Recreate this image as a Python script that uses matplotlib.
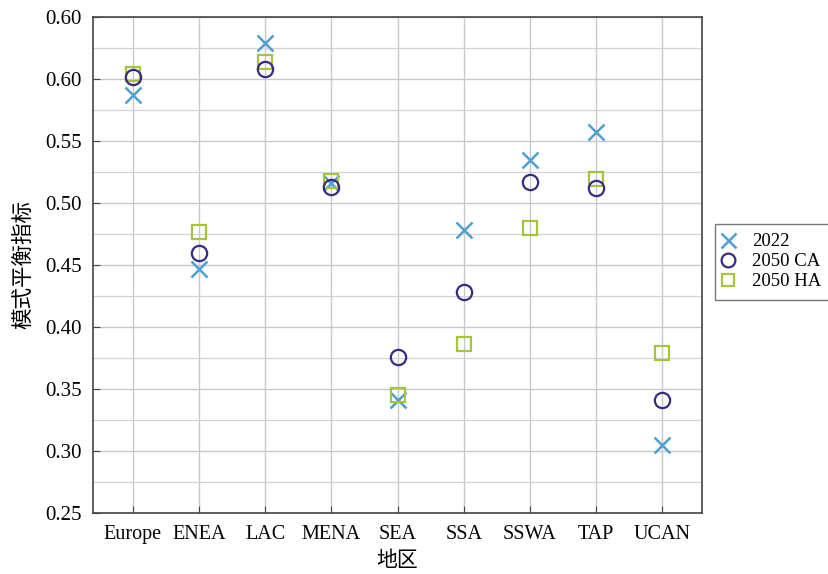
import matplotlib
matplotlib.use("Agg")
import matplotlib.pyplot as plt
from matplotlib.ticker import FixedLocator, FixedFormatter, MultipleLocator

plt.rcParams['font.family'] = ['Liberation Serif', 'Noto Sans CJK SC']

regions = ['Europe', 'ENEA', 'LAC', 'MENA', 'SEA', 'SSA', 'SSWA', 'TAP', 'UCAN']
v2022 = [0.587, 0.447, 0.629, 0.516, 0.341, 0.478, 0.535, 0.557, 0.305]
v2050_ca = [0.602, 0.460, 0.608, 0.513, 0.376, 0.428, 0.517, 0.512, 0.341]
v2050_ha = [0.604, 0.477, 0.614, 0.518, 0.345, 0.386, 0.480, 0.519, 0.379]

y_ticks = [0.25, 0.30, 0.35, 0.40, 0.45, 0.50, 0.55, 0.60, 0.65]
y_labels = ['0.25', '0.30', '0.35', '0.40', '0.45', '0.50', '0.55', '0.60', '0.60']

fig = plt.figure(figsize=(8.29, 5.74), dpi=100)
ax = fig.add_axes([0.1122, 0.1063, 0.7346, 0.8641])

x = list(range(len(regions)))
ax.plot(x, v2022, linestyle='none', marker='x', markersize=12, markeredgewidth=1.8,
        color='#4f9fcf', label='2022', zorder=3)
ax.plot(x, v2050_ca, linestyle='none', marker='o', markersize=11, markeredgewidth=1.6,
        markerfacecolor='none', markeredgecolor='#3a2a82', label='2050 CA', zorder=4)
ax.plot(x, v2050_ha, linestyle='none', marker='s', markersize=10, markeredgewidth=1.6,
        markerfacecolor='none', markeredgecolor='#a6c43a', label='2050 HA', zorder=3)

ax.set_xlim(-0.6, len(regions) - 0.4)
ax.set_ylim(0.25, 0.65)
ax.set_xticks(x)
ax.set_xticklabels(regions)
ax.yaxis.set_major_locator(FixedLocator(y_ticks))
ax.yaxis.set_major_formatter(FixedFormatter(y_labels))
ax.yaxis.set_minor_locator(MultipleLocator(0.025))

ax.grid(True, which='major', color='#c6c8cf', linewidth=1.0)
ax.grid(True, which='minor', axis='y', color='#d2d4da', linewidth=0.9)
ax.set_axisbelow(True)
ax.tick_params(axis='x', which='major', direction='in', length=5, labelsize=14.5,
               pad=9, color='#444444')
ax.tick_params(axis='y', which='major', direction='in', length=5, labelsize=15,
               pad=8, color='#444444')
ax.tick_params(axis='y', which='minor', length=0)
for s in ax.spines.values():
    s.set_color('#444444')
    s.set_linewidth(1.2)

ax.set_xlabel('地区', fontsize=15, labelpad=5)
ax.set_ylabel('模式平衡指标', fontsize=15.5, labelpad=8)

leg = ax.legend(loc='upper left', bbox_to_anchor=(1.021, 0.583), fontsize=13.5,
                frameon=True, fancybox=False, edgecolor='#555555',
                handlelength=0.4, handletextpad=1.1, borderpad=0.5,
                labelspacing=0.15, borderaxespad=0, markerscale=0.9)
leg.get_frame().set_linewidth(1.0)

fig.savefig('out.png', dpi=100)
